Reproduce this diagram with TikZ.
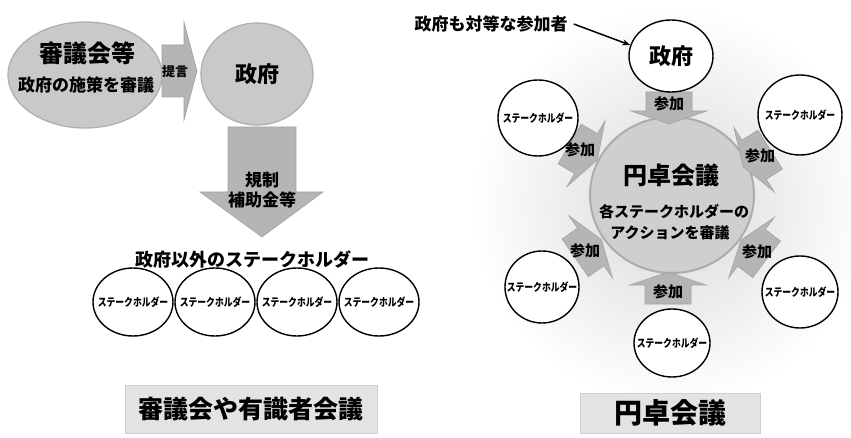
\documentclass[tikz,border=0pt]{standalone}
\usepackage{fontspec}
\setmainfont{Noto Sans CJK JP}
\usetikzlibrary{shapes.geometric,arrows.meta,calc}
\newcommand{\fs}[1]{\fontsize{#1}{#1}\selectfont}
\newcommand{\stk}{\scalebox{0.8}[1]{ステークホルダー}}
\begin{document}
\begin{tikzpicture}[x=1pt,y=1pt,
  grayell/.style={ellipse, fill=gray!42, draw=gray!62, line width=1.3pt, inner sep=0pt},
  whiteell/.style={ellipse, fill=white, draw=black, line width=1.4pt, inner sep=0pt},
  blockfill/.style={fill=gray!58, draw=gray!72, line width=0.6pt},
  txt/.style={inner sep=0pt},
  shtxt/.style={inner sep=0pt, font=\bfseries\fs{11}},
  tagbox/.style={fill=gray!22, draw=gray!38, line width=0.6pt, inner sep=0pt},
  sanka/.pic={\path[blockfill] (-12,-23) -- (7,-23) -- (7,-38) -- (20,0) -- (7,38) -- (7,23) -- (-12,23) -- cycle;}
]
\useasboundingbox (0,0) rectangle (851,-438);
\fill[white] (0,0) rectangle (851,-438);

% ---------------- left: 審議会 ----------------
\node[grayell, minimum width=154, minimum height=106] (council) at (85,-75) {};
\node[txt, font=\bfseries\fs{24}] (councilT) at (87,-53) {審議会等};
\node[txt, font=\bfseries\fs{17}] (councilS) at (86,-85) {政府の施策を審議};

\path[blockfill] (162,-45) -- (184,-45) -- (184,-22) -- (197,-71) -- (184,-120) -- (184,-97) -- (162,-97) -- cycle;
\node[txt, font=\bfseries\fs{13}] (teigen) at (175,-72) {提言};

\node[grayell, minimum width=112, minimum height=102, font=\bfseries\fs{22}] (govL) at (257,-74) {政府};

\path[blockfill] (228,-127) -- (296,-127) -- (296,-192) -- (323,-192) -- (262,-237) -- (200,-192) -- (228,-192) -- cycle;
\node[txt, font=\bfseries\fs{17}] (kisei) at (262,-180) {規制};
\node[txt, font=\bfseries\fs{17}] (hojo) at (262,-200) {補助金等};

\node[txt, font=\bfseries\fs{18}] (others) at (252,-260) {政府以外のステークホルダー};
\foreach \i/\x in {1/133,2/215,3/297,4/379}{
  \node[whiteell, minimum width=80, minimum height=68] (s\i) at (\x,-302) {};
  \node[shtxt] (s\i t) at (s\i) {\stk};
}

\node[tagbox, minimum width=252, minimum height=48, font=\bfseries\fs{25}] (labL) at (251,-409) {審議会や有識者会議};

% ---------------- right: 円卓会議 ----------------
\shade[inner color=gray!30, outer color=white] (672,-205) circle (200);

\node[ellipse, fill=gray!38, draw=gray!65, line width=2pt, minimum width=164, minimum height=156, inner sep=0pt] (table) at (672,-195) {};
\node[txt, font=\bfseries\fs{24}] (tableT) at (671,-175) {円卓会議};
\node[txt, font=\bfseries\fs{15}] (tableS1) at (674,-212) {各ステークホルダーの};
\node[txt, font=\bfseries\fs{15}] (tableS2) at (670,-233) {アクションを審議};

\pic[rotate=-90] at (669,-104) {sanka};
\pic[rotate=-30] at (580,-150) {sanka};
\pic[rotate=-148] at (760,-156) {sanka};
\pic[rotate=35] at (585,-251) {sanka};
\pic[rotate=143] at (757,-252) {sanka};
\pic[rotate=90] at (668,-292) {sanka};
\node[txt, font=\bfseries\fs{15}] (p1) at (669,-104) {参加};
\node[txt, font=\bfseries\fs{15}] (p2) at (580,-150) {参加};
\node[txt, font=\bfseries\fs{15}] (p3) at (760,-156) {参加};
\node[txt, font=\bfseries\fs{15}] (p4) at (585,-251) {参加};
\node[txt, font=\bfseries\fs{15}] (p5) at (757,-252) {参加};
\node[txt, font=\bfseries\fs{15}] (p6) at (668,-292) {参加};

\node[whiteell, minimum width=84, minimum height=72, font=\bfseries\fs{22}] (govR) at (671,-56) {政府};
\node[whiteell, minimum width=80, minimum height=76] (r1) at (538,-118) {};
\node[whiteell, minimum width=84, minimum height=80] (r2) at (800,-115) {};
\node[whiteell, minimum width=74, minimum height=72] (r3) at (542,-287) {};
\node[whiteell, minimum width=76, minimum height=72] (r4) at (800,-292) {};
\node[whiteell, minimum width=76, minimum height=68] (r5) at (672,-343) {};
\foreach \i in {1,...,5}{ \node[shtxt] (r\i t) at (r\i) {\stk}; }

\node[txt, font=\bfseries\fs{17}] (equal) at (491,-24) {政府も対等な参加者};
\draw[-{Stealth[length=8pt,width=6pt]}, line width=1.5pt] ([xshift=6pt]equal.east) -- (govR.165);

\node[tagbox, minimum width=180, minimum height=40, font=\bfseries\fs{28}] (labR) at (670,-413) {円卓会議};
\end{tikzpicture}
\end{document}
